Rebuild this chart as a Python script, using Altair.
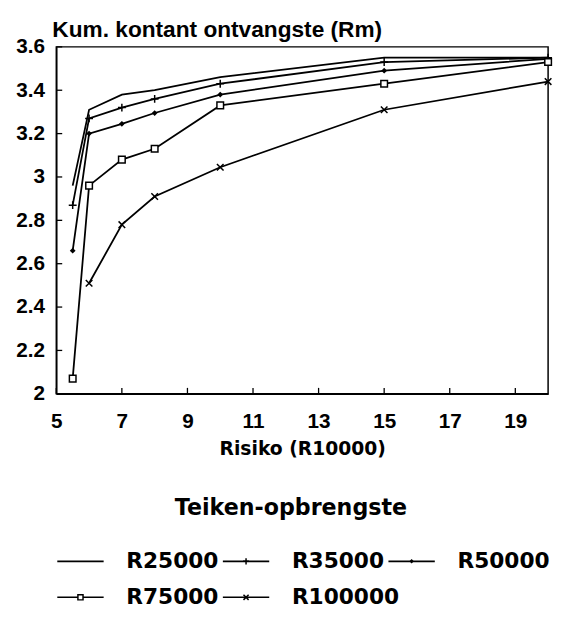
import altair as alt
import pandas as pd

# ---------------- data ----------------
risk = [5.5, 6, 7, 8, 10, 15, 20]
series_names = ["R25000", "R35000", "R50000", "R75000", "R100000"]
r25000 = [2.96, 3.31, 3.38, 3.40, 3.46, 3.55, 3.55]
r35000 = [2.87, 3.27, 3.32, 3.36, 3.43, 3.53, 3.55]
r50000 = [2.66, 3.20, 3.245, 3.295, 3.38, 3.49, 3.545]
r75000 = [2.07, 2.96, 3.08, 3.13, 3.33, 3.43, 3.53]
r100000 = [None, 2.51, 2.78, 2.91, 3.045, 3.31, 3.44]
x_ticks = [5, 7, 9, 11, 13, 15, 17, 19]
y_ticks = [2.0, 2.2, 2.4, 2.6, 2.8, 3.0, 3.2, 3.4, 3.6]
title_text = "Kum. kontant ontvangste (Rm)"
x_title = "Risiko (R10000)"
legend_title = "Teiken-opbrengste"

values = [r25000, r35000, r50000, r75000, r100000]
rows = []
for name, vals in zip(series_names, values):
    for xv, v in zip(risk, vals):
        if v is not None:
            rows.append({"risk": xv, "value": v, "series": name})
df = pd.DataFrame(rows)

leg_df = pd.DataFrame({
    "series": series_names,
    "col": [i % 3 for i in range(len(series_names))],
    "row": [i // 3 + 1 for i in range(len(series_names))],
})

# ---------------- styling ----------------
PLUS = "M0,-1L0,1M-1,0L1,0"
CROSS = "M-1,-1L1,1M-1,1L1,-1"
W, H = 499, 352
LABEL_FONT = "Liberation Sans"
WIDE_FONT = "DejaVu Sans"

xs = alt.Scale(domain=[5, 20], nice=False, zero=False)
ys = alt.Scale(domain=[2, 3.6], nice=False, zero=False)

x_axis = alt.Axis(values=x_ticks, title=x_title, grid=False, tickSize=0,
                  domainColor="black", domainWidth=1.5,
                  labelFont=LABEL_FONT, labelFontSize=21, labelFontWeight="bold",
                  labelColor="black", labelPadding=17, labelOverlap=False,
                  labelFlush=False, labelBound=False,
                  titleFont=WIDE_FONT, titleFontSize=19, titleFontWeight="bold",
                  titleColor="black", titlePadding=9)
y_axis = alt.Axis(values=y_ticks, title=None, grid=False, tickSize=0, format=".1~f",
                  domainColor="black", domainWidth=1.5,
                  labelFont=LABEL_FONT, labelFontSize=21, labelFontWeight="bold",
                  labelColor="black", labelPadding=12, labelOverlap=False,
                  labelFlush=False, labelBound=False)


def xe(field):
    return alt.X(field, type="quantitative", scale=xs, axis=x_axis)


def ye(field):
    return alt.Y(field, type="quantitative", scale=ys, axis=y_axis)


base = alt.Chart(df)
lines = base.mark_line(color="black", strokeWidth=1.8).encode(
    x=xe("risk"), y=ye("value"), detail="series:N")


def markers(src, xf, yf, xenc, yenc, scale=1.0):
    layers = []
    layers.append(src.transform_filter(alt.datum.series == "R35000").mark_point(
        shape=PLUS, size=64 * scale, filled=False, color="black", strokeWidth=1.5, opacity=1
    ).encode(x=xenc(xf), y=yenc(yf)))
    layers.append(src.transform_filter(alt.datum.series == "R50000").mark_point(
        shape="diamond", size=34 * scale, filled=True, color="black", opacity=1
    ).encode(x=xenc(xf), y=yenc(yf)))
    layers.append(src.transform_filter(alt.datum.series == "R75000").mark_point(
        shape="square", size=45 * scale, fill="white", stroke="black", strokeWidth=1.5,
        fillOpacity=1, opacity=1
    ).encode(x=xenc(xf), y=yenc(yf)))
    layers.append(src.transform_filter(alt.datum.series == "R100000").mark_point(
        shape=CROSS, size=45 * scale, filled=False, color="black", strokeWidth=1.5, opacity=1
    ).encode(x=xenc(xf), y=yenc(yf)))
    return layers


xtick_layer = alt.Chart(pd.DataFrame({"t": x_ticks})).mark_rule(
    color="black", strokeWidth=1.3).encode(x=xe("t"), y=alt.value(H), y2=alt.value(H - 6))
ytick_layer = alt.Chart(pd.DataFrame({"t": y_ticks})).mark_rule(
    color="black", strokeWidth=1.3).encode(y=ye("t"), x=alt.value(0), x2=alt.value(6))

title_layer = alt.Chart(pd.DataFrame({"t": [title_text]})).mark_text(
    align="left", baseline="alphabetic", font=LABEL_FONT, fontSize=23, fontWeight="bold",
    color="black").encode(x=alt.value(-4), y=alt.value(-10), text="t:N")

plot = alt.layer(lines, *markers(base, "risk", "value", xe, ye),
                 xtick_layer, ytick_layer, title_layer)

# ---------------- legend (below the plot, own scales) ----------------
PITCH = 168.0          # px per legend column
ROWP = 36.5            # px per legend row
ROW1 = 522.0           # px from plot top to first legend row
d0 = 1 - ROW1 / ROWP
lxs = alt.Scale(domain=[0, W / PITCH], nice=False, zero=False)
lys = alt.Scale(domain=[d0, d0 + H / ROWP], nice=False, zero=False, reverse=True)


def lxe(field):
    return alt.X(field, type="quantitative", scale=lxs, axis=None)


def lye(field):
    return alt.Y(field, type="quantitative", scale=lys, axis=None)


lbase = alt.Chart(leg_df).transform_calculate(
    x0="datum.col + 0.006", x1="datum.col + 0.286",
    xm="datum.col + 0.146", xl="datum.col + 0.423")

leg_lines = lbase.mark_rule(color="black", strokeWidth=1.6).encode(
    x=lxe("x0"), x2="x1:Q", y=lye("row"))
leg_text = lbase.mark_text(align="left", baseline="middle", font=WIDE_FONT,
                           fontSize=22, fontWeight="bold", color="black").encode(
    x=lxe("xl"), y=lye("row"), text="series:N")
leg_title = alt.Chart(pd.DataFrame({
    "t": [legend_title], "x": [1.417], "y": [d0 + 467.5 / ROWP]
})).mark_text(
    align="center", baseline="middle", font=WIDE_FONT, fontSize=22.5, fontWeight="bold",
    color="black").encode(x=lxe("x"), y=lye("y"), text="t:N")

legend = alt.layer(leg_lines, *markers(lbase, "xm", "row", lxe, lye, scale=0.6),
                   leg_text, leg_title)

chart = alt.layer(plot, legend).resolve_scale(
    x="independent", y="independent"
).properties(
    width=W, height=H,
    autosize=alt.AutoSizeParams(type="none"),
    padding={"left": 49, "top": 35, "right": 7, "bottom": 220},
    background="white",
).configure_view(stroke="black", strokeWidth=1.5)

chart.save("out.html", embed_options={"renderer": "svg", "actions": False})
